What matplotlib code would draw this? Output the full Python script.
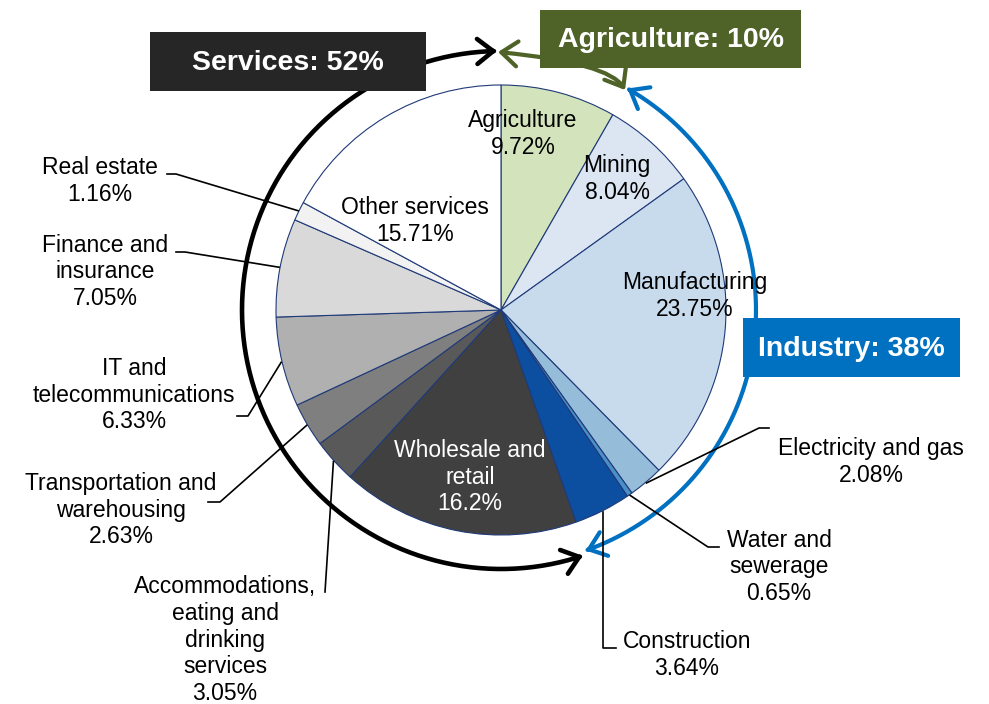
import numpy as np
import matplotlib.pyplot as plt
from matplotlib.patches import FancyArrowPatch, Rectangle
from matplotlib.path import Path

plt.rcParams['font.family'] = ['Liberation Sans', 'DejaVu Sans']

# sectors, clockwise from 12 o'clock
sectors = ['Agriculture', 'Mining', 'Manufacturing', 'Electricity and gas',
           'Water and sewerage', 'Construction', 'Wholesale and retail',
           'Accommodations, eating and drinking services',
           'Transportation and warehousing', 'IT and telecommunications',
           'Finance and insurance', 'Real estate', 'Other services']
# printed percentages
label_pct = ['9.72', '8.04', '23.75', '2.08', '0.65', '3.64', '16.2',
             '3.05', '2.63', '6.33', '7.05', '1.16', '15.71']
# slice sizes as drawn in the picture (%)
shares = [8.28, 6.81, 22.53, 2.50, 0.39, 4.08, 17.11,
          3.19, 3.17, 6.44, 7.06, 1.36, 17.08]
colors = ['#d3e4bc', '#dce6f2', '#c7dbed', '#95bcd9', '#4a8fc8', '#0c4fa0',
          '#404040', '#595959', '#7f7f7f', '#b0b0b0', '#d9d9d9', '#f2f2f2',
          '#ffffff']
# text shown for each slice
label_text = ['Agriculture', 'Mining', 'Manufacturing', 'Electricity and gas',
              'Water and\nsewerage', 'Construction', 'Wholesale and\nretail',
              'Accommodations,\neating and\ndrinking\nservices',
              'Transportation and\nwarehousing', 'IT and\ntelecommunications',
              'Finance and\ninsurance', 'Real estate', 'Other services']

groups = ['Services: 52%', 'Agriculture: 10%', 'Industry: 38%']
group_colors = ['#262626', '#4f6228', '#0070c0']

W, H = 989, 704
cx, cy, R = 501, 310, 225

fig = plt.figure(figsize=(W / 100, H / 100), dpi=100)
ax = fig.add_axes([0, 0, 1, 1])

ax.pie(shares, colors=colors, radius=R, center=(cx, cy), startangle=-90,
       counterclock=True,
       wedgeprops=dict(edgecolor='#1f3a78', linewidth=0.8))
ax.set_xlim(0, W)
ax.set_ylim(H, 0)
ax.set_aspect('equal')
ax.axis('off')

cum = np.cumsum([0] + shares)
mid = (cum[:-1] + cum[1:]) / 2 * 3.6   # degrees clockwise from top


def on_circle(r, phi):
    phi = np.radians(phi)
    return cx + r * np.sin(phi), cy - r * np.cos(phi)


# label placement (centre of text block) and leader stubs
label_pos = [(523, 134), (617, 179), (695, 296), (871, 462), (779, 567),
             (687, 655), (470, 477), (225, 640), (121, 510), (134, 395),
             (105, 272), (100, 181), (415, 221)]
stubs = {3: [(769, 428), (759, 428)],
         4: [(719, 547), (708, 547)],
         7: [(325, 592)],
         8: [(208, 502), (220, 502)],
         9: [(237, 416), (248, 416)],
         10: [(176, 252), (185, 252)],
         11: [(167, 174), (176, 174)]}

for i, name in enumerate(label_text):
    tc = 'white' if i == 6 else 'black'
    ax.text(label_pos[i][0], label_pos[i][1], name + '\n' + label_pct[i] + '%',
            ha='center', va='center', fontsize=16.5, color=tc,
            linespacing=1.2, zorder=5)
    ex, ey = on_circle(R + 1, mid[i])
    if i in stubs:
        pts = stubs[i] + [(ex, ey)]
    elif i == 5:
        pts = [(616, 648), (ex, 648), (ex, ey)]
    else:
        continue
    xs, ys = zip(*pts)
    ax.plot(xs, ys, color='black', lw=1.2, zorder=4)


def arc_path(r, phi0, phi1):
    phi = np.linspace(phi0, phi1, 300)
    x, y = on_circle(r, phi)
    return Path(np.column_stack([x, y]))


style = '<->,head_length=1.15,head_width=0.9'
ax.add_patch(FancyArrowPatch(path=arc_path(259, -0.9, -198.4), arrowstyle=style,
                             mutation_scale=10, lw=3.3, color='black', zorder=3))
ax.add_patch(FancyArrowPatch(path=arc_path(255, 29.7, 160.6), arrowstyle=style,
                             mutation_scale=10, lw=3.0, color=group_colors[2],
                             zorder=3))
green = Path([(498, 52), (609, 63), (625, 90)],
             [Path.MOVETO, Path.CURVE3, Path.CURVE3])
ax.add_patch(FancyArrowPatch(path=green, arrowstyle=style, mutation_scale=10,
                             lw=3.0, color=group_colors[1], zorder=3))

# group boxes
boxes = [(150, 32, 276, 59), (540, 10, 261, 58), (743, 318, 217, 59)]
for (bx, by, bw, bh), txt, c in zip(boxes, groups, group_colors):
    ax.add_patch(Rectangle((bx, by), bw, bh, facecolor=c, edgecolor='none',
                           zorder=6))
    ax.text(bx + bw / 2, by + bh / 2 + 1, txt, ha='center', va='center',
            color='white', fontsize=20.5, fontweight='bold', zorder=7)

fig.savefig('out.png', dpi=100)
